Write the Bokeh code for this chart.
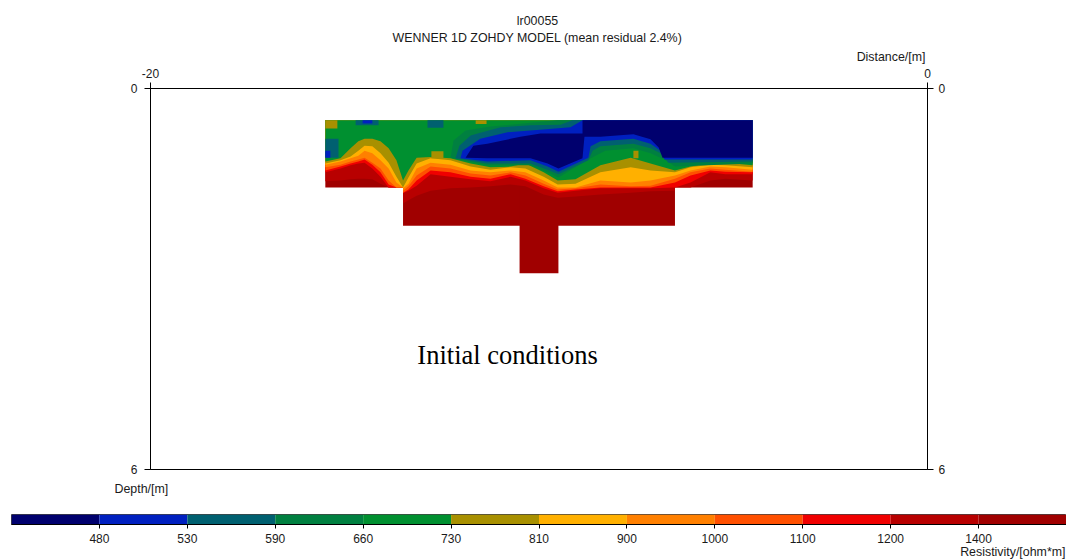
from bokeh.plotting import figure
from bokeh.layouts import column
from bokeh.models import Range1d, LinearAxis, FixedTicker, Label
from bokeh.embed import file_html
from bokeh.resources import INLINE

TITLE_1 = "lr00055"
TITLE_2 = "WENNER 1D ZOHDY MODEL (mean residual 2.4%)"
NOTE = "Initial conditions"

# resistivity classes
class_colors = ["#00006e", "#0020c0", "#006070", "#008040", "#009030", "#a89000",
                "#ffb000", "#ff8000", "#ff5000", "#f00000", "#b80000", "#a00000"]
class_labels = ["480", "530", "590", "660", "730", "810", "900", "1000", "1100", "1200", "1400"]

# blocks of the inverted section: distance / depth, metres
block_left = [-15.5, -13.5, -10.5]
block_right = [-4.5, -6.5, -9.5]
block_bottom = [1.56, 2.16, 2.91]
section_top = 0.5

# distance stations for the warm contours
distance = [-15.50, -15.11, -14.85, -14.65, -14.49, -14.29, -14.08, -13.87, -13.67, -13.50, -13.50,
            -13.36, -13.15, -12.79, -12.28, -11.76, -11.25, -10.73, -10.35, -9.88, -9.52, -9.06,
            -8.42, -7.64, -7.13, -6.50, -6.50, -6.10, -5.59, -5.20, -4.50]
top_1400 = [1.46, 1.45, 1.43, 1.42, 1.42, 1.43, 1.50, 1.56, 1.56, 1.56, 1.81, 1.76, 1.69, 1.61, 1.57, 1.56,
            1.54, 1.51, 1.54, 1.67, 1.72, 1.70, 1.67, 1.64, 1.62, 1.61, 1.56, 1.56, 1.45, 1.42, 1.45]
top_1200 = [1.32, 1.26, 1.21, 1.18, 1.17, 1.26, 1.39, 1.56, 1.56, 1.56, 1.65, 1.61, 1.53, 1.35, 1.39, 1.43,
            1.46, 1.39, 1.45, 1.57, 1.64, 1.61, 1.57, 1.57, 1.57, 1.56, 1.56, 1.48, 1.32, 1.35, 1.35]
top_1100 = [1.29, 1.23, 1.18, 1.15, 1.12, 1.20, 1.32, 1.51, 1.56, 1.56, 1.64, 1.59, 1.45, 1.29, 1.32, 1.39,
            1.42, 1.35, 1.42, 1.54, 1.62, 1.59, 1.56, 1.56, 1.56, 1.48, 1.48, 1.37, 1.29, 1.31, 1.32]
top_1000 = [1.24, 1.20, 1.15, 1.12, 1.09, 1.17, 1.26, 1.45, 1.56, 1.56, 1.61, 1.54, 1.37, 1.23, 1.26, 1.34,
            1.37, 1.32, 1.37, 1.50, 1.59, 1.57, 1.51, 1.54, 1.53, 1.42, 1.42, 1.32, 1.26, 1.28, 1.31]
top_900 = [1.20, 1.15, 1.10, 1.06, 0.98, 1.02, 1.13, 1.26, 1.48, 1.56, 1.57, 1.50, 1.26, 1.17, 1.20, 1.29,
           1.32, 1.29, 1.32, 1.45, 1.56, 1.56, 1.45, 1.48, 1.45, 1.37, 1.37, 1.29, 1.23, 1.24, 1.28]
top_810 = [1.18, 1.13, 1.07, 0.98, 0.90, 0.91, 1.02, 1.17, 1.39, 1.56, 1.56, 1.40, 1.18, 1.10, 1.13, 1.23,
           1.28, 1.24, 1.26, 1.39, 1.51, 1.50, 1.32, 1.24, 1.29, 1.32, 1.32, 1.24, 1.20, 1.21, 1.24]
top_730 = [1.15, 1.10, 0.94, 0.83, 0.79, 0.79, 0.83, 0.94, 1.13, 1.45, 1.45, 1.29, 1.09, 1.08, 1.10, 1.18,
           1.24, 1.23, 1.18, 1.32, 1.45, 1.43, 1.21, 1.09, 1.18, 1.29, 1.29, 1.23, 1.17, 1.17, 1.21]

# low-resistivity bodies (outer to inner)
low_660_x = [-12.28, -12.20, -11.89, -11.25, -10.22, -9.52, -4.50, -4.50, -6.50, -6.74, -7.13, -7.57, -8.29, -8.67, -9.50, -9.78, -10.22, -11.33]
low_660_d = [1.09, 0.82, 0.66, 0.60, 0.54, 0.50, 0.50, 1.18, 1.23, 1.13, 1.02, 0.94, 0.98, 1.10, 1.40, 1.32, 1.21, 1.21]
low_590_x = [-12.15, -12.05, -11.76, -11.58, -10.99, -10.22, -9.45, -9.14, -4.50, -4.50, -6.67, -6.87, -7.13, -7.57, -8.42, -8.62, -8.73, -9.50, -9.78, -10.22, -11.33]
low_590_d = [1.10, 0.90, 0.74, 0.71, 0.61, 0.58, 0.57, 0.50, 0.50, 1.15, 1.17, 1.02, 0.94, 0.87, 0.91, 0.98, 1.13, 1.35, 1.28, 1.18, 1.18]
low_530_x = [-12.02, -11.97, -11.51, -10.81, -10.22, -9.19, -8.88, -4.50, -4.50, -6.77, -6.87, -7.13, -7.57, -8.42, -8.67, -8.73, -9.50, -9.78, -10.22, -11.33]
low_530_d = [1.10, 0.98, 0.79, 0.69, 0.66, 0.61, 0.50, 0.50, 1.12, 1.12, 0.98, 0.87, 0.79, 0.83, 0.91, 1.09, 1.31, 1.23, 1.13, 1.15]
low_480_x = [-11.89, -11.69, -11.33, -10.48, -9.96, -8.88, -8.88, -4.50, -4.50, -6.82, -6.92, -7.13, -7.57, -8.42, -8.83, -8.88, -9.50, -9.78, -10.22, -11.33]
low_480_d = [1.09, 0.90, 0.87, 0.76, 0.71, 0.71, 0.50, 0.50, 1.09, 1.09, 0.93, 0.80, 0.72, 0.76, 0.76, 1.10, 1.26, 1.18, 1.10, 1.10]

# small single-class cells: left, right, top, bottom, class index
cell_left = [-15.50, -14.72, -14.54, -12.87, -11.63, -15.50, -15.50, -12.77, -7.57]
cell_right = [-15.19, -14.13, -14.29, -12.46, -11.35, -15.16, -15.37, -12.46, -7.44]
cell_top = [0.50, 0.50, 0.50, 0.50, 0.50, 0.79, 0.98, 0.99, 0.98]
cell_bottom = [0.63, 0.58, 0.55, 0.62, 0.56, 1.09, 1.09, 1.10, 1.10]
cell_class = [5, 2, 1, 2, 5, 2, 1, 5, 5]

FONT = "Liberation Sans"
INK = "#1a1a1a"
W = 1066


def strip(y0, y1, texts):
    """A borderless band of the page holding only labels, in page pixels."""
    s = figure(width=W, height=y1 - y0, output_backend="svg", toolbar_location=None,
               x_range=Range1d(0, W), y_range=Range1d(y1, y0),
               min_border_left=0, min_border_right=0, min_border_top=0, min_border_bottom=0,
               x_axis_type=None, y_axis_type=None, frame_align=False)
    s.grid.visible = False
    s.outline_line_color = None
    for text, x, y, align in texts:
        s.add_layout(Label(x=x, y=y, text=text, text_align=align, text_baseline="middle",
                           text_font=FONT, text_font_size="12.4px", text_color=INK))
    return s


header = strip(0, 65, [(TITLE_1, 537, 20, "center"), (TITLE_2, 537, 37, "center"),
                       ("Distance/[m]", 925, 56, "right")])
middle = strip(476, 506, [("Depth/[m]", 114, 488, "left")])
footer = strip(545, 559, [("Resistivity/[ohm*m]", 1065, 551, "right")])

p = figure(width=W, height=411, output_backend="svg", toolbar_location=None,
           x_range=Range1d(-20, 0), y_range=Range1d(6, 0),
           min_border_left=150, min_border_right=139, min_border_top=23, min_border_bottom=7,
           x_axis_type=None, y_axis_type=None, frame_align=False)
p.grid.visible = False
p.background_fill_color = "white"
p.border_fill_color = "white"
p.outline_line_color = "black"
p.outline_line_width = 1


def style(ax):
    ax.major_label_text_font = FONT
    ax.major_label_text_font_size = "12px"
    ax.major_label_text_color = INK
    ax.axis_line_color = "black"
    ax.major_tick_line_color = "black"
    ax.major_tick_in = 0
    ax.major_tick_out = 6
    ax.minor_tick_line_color = None


left_ax = LinearAxis(ticker=FixedTicker(ticks=[0, 6]), major_label_standoff=7)
right_ax = LinearAxis(ticker=FixedTicker(ticks=[0, 6]))
top_ax = LinearAxis(ticker=FixedTicker(ticks=[-20, 0]), major_label_overrides={-20: "-20", 0: "0"})
for ax in (left_ax, right_ax, top_ax):
    style(ax)
p.add_layout(left_ax, "left")
p.add_layout(right_ax, "right")
p.add_layout(top_ax, "above")

# base of the section
p.quad(left=block_left, right=block_right, top=[section_top] * 3, bottom=block_bottom,
       fill_color=class_colors[11], line_color=None)

# warm classes, painted from deep to shallow
tops = [section_top] * len(distance)
for idx, bound in [(10, top_1400), (9, top_1200), (8, top_1100), (7, top_1000),
                   (6, top_900), (5, top_810), (4, top_730)]:
    p.varea(x=distance, y1=tops, y2=bound, fill_color=class_colors[idx])

# cold classes
for idx, xs, ds in [(3, low_660_x, low_660_d), (2, low_590_x, low_590_d),
                    (1, low_530_x, low_530_d), (0, low_480_x, low_480_d)]:
    p.patch(x=xs, y=ds, fill_color=class_colors[idx], line_color=None)

p.quad(left=cell_left, right=cell_right, top=cell_top, bottom=cell_bottom,
       fill_color=[class_colors[c] for c in cell_class], line_color=None)

p.add_layout(Label(x=-10.81, y=4.20, text=NOTE, text_align="center", text_baseline="middle",
                   text_font="Liberation Serif", text_font_size="26.5px", text_color="black"))

# colour scale
n = len(class_colors)
bar = figure(width=W, height=39, output_backend="svg", toolbar_location=None,
             x_range=Range1d(0, n), y_range=Range1d(0, 1),
             min_border_left=11, min_border_right=0, min_border_top=8, min_border_bottom=21,
             x_axis_type=None, y_axis_type=None, frame_align=False)
bar.grid.visible = False
bar.outline_line_color = "#444444"
bar.quad(left=list(range(n)), right=list(range(1, n + 1)), top=[1] * n, bottom=[0] * n,
         fill_color=class_colors, line_color=None)
bar_ax = LinearAxis(ticker=FixedTicker(ticks=list(range(1, n))),
                    major_label_overrides={i + 1: t for i, t in enumerate(class_labels)})
style(bar_ax)
bar_ax.major_tick_out = 4
bar_ax.major_label_standoff = 5
bar.add_layout(bar_ax, "below")

page = column(header, p, middle, bar, footer, spacing=0)
open("out.html", "w").write(file_html(page, INLINE))
